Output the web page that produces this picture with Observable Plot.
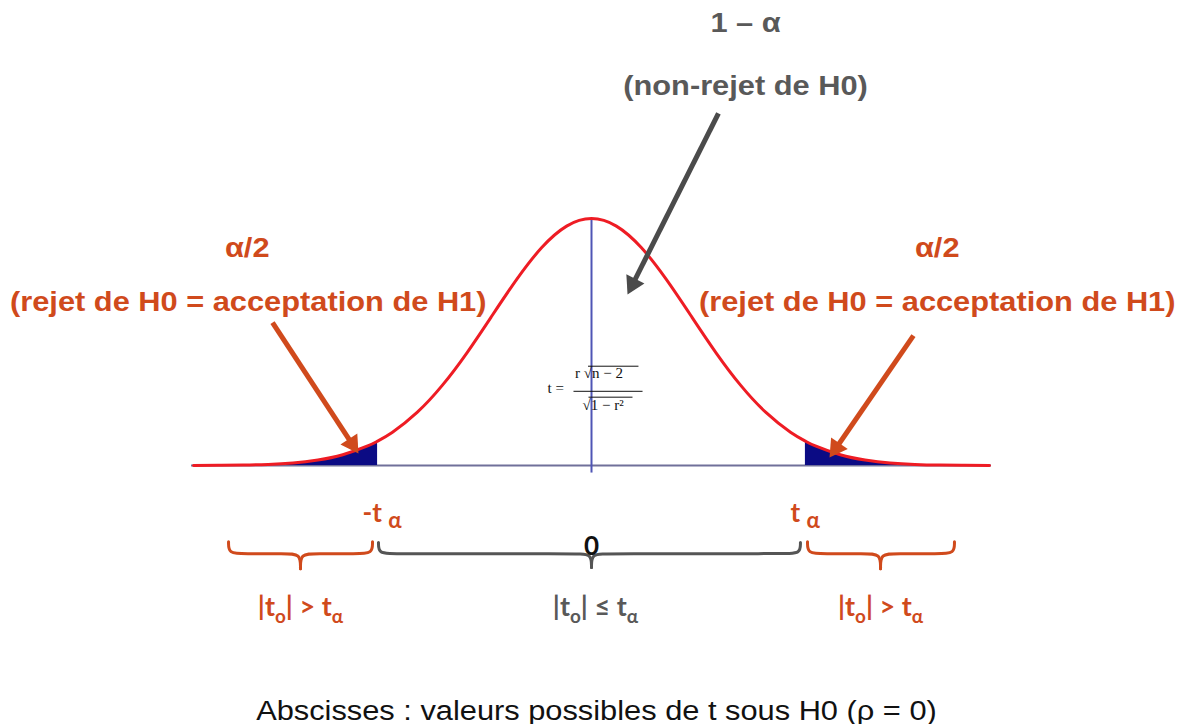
<!DOCTYPE html>
<html>
<head>
<meta charset="utf-8">
<script src="https://cdn.jsdelivr.net/npm/d3@7"></script>
<script src="https://cdn.jsdelivr.net/npm/@observablehq/plot@0.6"></script>
<style>
  html, body { margin: 0; padding: 0; background: #fff; }
  #chart { width: 1182px; height: 724px; }
</style>
</head>
<body>
<div id="chart"></div>
<script>
// ---------------- values ----------------
const tValues = [-4, -3.75, -3.5, -3.25, -3, -2.75, -2.5, -2.25, -2.15, -2, -1.75, -1.5, -1.25, -1, -0.75, -0.5, -0.25,
                 0, 0.25, 0.5, 0.75, 1, 1.25, 1.5, 1.75, 2, 2.15, 2.25, 2.5, 2.75, 3, 3.25, 3.5, 3.75, 4];
const density = [0.0001, 0.0004, 0.0009, 0.0020, 0.0044, 0.0091, 0.0175, 0.0317, 0.0396, 0.0540, 0.0863, 0.1295, 0.1826, 0.2420, 0.3011, 0.3521, 0.3867,
                 0.3989, 0.3867, 0.3521, 0.3011, 0.2420, 0.1826, 0.1295, 0.0863, 0.0540, 0.0396, 0.0317, 0.0175, 0.0091, 0.0044, 0.0020, 0.0009, 0.0004, 0.0001];
const tCenter = 0;
const tCritical = [-2.15, 2.15];
const axisExtent = [-4.02, 4.02];

const centerLabels = ["1 – α", "(non-rejet de H0)"];
const alphaLabels = ["α/2", "α/2"];
const rejectLabels = ["(rejet de H0 = acceptation de H1)", "(rejet de H0 = acceptation de H1)"];
const criticalLabels = ["-t ~α", "t ~α"];
const xTickLabels = ["0"];
const regionLabels = ["|t_o| > t_α", "|t_o| ≤ t_α", "|t_o| > t_α"];
const formulaLabels = ["t =", "r √n − 2", "√1 − r²"];
const captionLabels = ["Abscisses : valeurs possibles de t sous H0 (ρ = 0)"];

// ---------------- layout & style ----------------
const W = 1182, H = 724;
const xDomain = [-5.94, 5.94];
const yDomain = [-0.418, 0.751];
const kx = W / (xDomain[1] - xDomain[0]);
const ky = H / (yDomain[1] - yDomain[0]);

const RED = "#ee1c24", NAVY = "#0b0b84", AXIS = "#70709a", VLINE = "#4f55b5";
const ORANGE = "#d04a1c", GRAYTXT = "#595959", GRAYARROW = "#4b4b4b", BRACEGRAY = "#555555";
const ARIAL = "'Liberation Sans', Arial, sans-serif";
const CALIBRI = "Lato, 'Open Sans', sans-serif";
const SERIF = "'Liberation Serif', 'Times New Roman', serif";

const curveData = tValues.map((t, i) => ({t, d: density[i]}));
const leftTail = curveData.filter(p => p.t <= tCritical[0] + 1e-9);
const rightTail = curveData.filter(p => p.t >= tCritical[1] - 1e-9);
const peak = d3.max(density);

const centerPos = [{x: 1.548, y: 0.7153}, {x: 1.548, y: 0.6136}];
const alphaPos = [{x: -3.46, y: 0.352}, {x: 3.475, y: 0.352}];
const rejectPos = [{x: -3.45, y: 0.2648}, {x: 3.475, y: 0.2648}];
const criticalPos = [{x: -2.302, y: -0.0775}, {x: 2.0, y: -0.0775}];
const tickPos = [{x: 0, y: -0.1308}];
const regionPos = [{x: -2.925, y: -0.2293}, {x: 0.04, y: -0.2293}, {x: 2.905, y: -0.2293}];
const regionColor = [ORANGE, GRAYTXT, ORANGE];
const formulaPos = [{x: -0.442, y: 0.1179}, {x: -0.165, y: 0.1421}, {x: -0.09, y: 0.0904}];
const captionPos = [{x: 0.05, y: -0.3956}];

const mk = (labels, pos, extra = {}) => labels.map((label, i) => ({label, ...pos[i], ...(extra.color ? {color: extra.color[i]} : {})}));

const braceSpecs = [
  {x1: -3.648, x2: -2.201, cx: -2.925, top: -0.1228, mid: -0.1421, tip: -0.1664, color: ORANGE},
  {x1: -2.141, x2: 2.10, cx: 0, top: -0.124, mid: -0.1421, tip: -0.1645, color: BRACEGRAY},
  {x1: 2.171, x2: 3.648, cx: 2.905, top: -0.1228, mid: -0.1421, tip: -0.1664, color: ORANGE}
];
const BR = 0.15;
function bracePoints(b, id) {
  const half = (e, tag) => {
    const s = Math.sign(b.cx - e);
    return [[e, b.top], [e, b.mid], [e + s * BR, b.mid], [b.cx - s * BR, b.mid], [b.cx, b.mid], [b.cx, b.tip]]
      .map(([x, y]) => ({x, y, z: id + tag}));
  };
  return [...half(b.x1, "a"), ...half(b.x2, "b")];
}

const arrowSpecs = [
  {x1: -3.206, y1: 0.231, x2: -2.342, y2: 0.0194, color: ORANGE},
  {x1: 3.236, y1: 0.210, x2: 2.392, y2: 0.0129, color: ORANGE},
  {x1: 1.276, y1: 0.5686, x2: 0.362, y2: 0.2762, color: GRAYARROW}
];
const HEAD_R = 7.5, HEAD_BACK = 11.7;
const arrows = arrowSpecs.map(a => {
  const dx = (a.x2 - a.x1) * kx, dy = -(a.y2 - a.y1) * ky;
  const L = Math.hypot(dx, dy), ux = dx / L, uy = dy / L;
  return {...a, hx: a.x2 - ux * HEAD_BACK / kx, hy: a.y2 + uy * HEAD_BACK / ky, rot: Math.atan2(ux, -uy) * 180 / Math.PI};
});

const overlines = [
  {x1: -0.035, x2: 0.472, y: 0.1605},
  {x1: -0.181, x2: 0.513, y: 0.12},
  {x1: -0.03, x2: 0.412, y: 0.1105}
];

const marks = [
  Plot.ruleY([0], {x1: axisExtent[0], x2: axisExtent[1], stroke: AXIS, strokeWidth: 2}),
  Plot.areaY(leftTail, {x: "t", y: "d", fill: NAVY, curve: "natural"}),
  Plot.areaY(rightTail, {x: "t", y: "d", fill: NAVY, curve: "natural"}),
  Plot.ruleX([tCenter], {y1: -0.012, y2: peak, stroke: VLINE, strokeWidth: 2}),
  Plot.line(curveData, {x: "t", y: "d", stroke: RED, strokeWidth: 3, curve: "natural"}),
  // formula
  Plot.link(overlines, {x1: "x1", x2: "x2", y1: "y", y2: "y", stroke: "#111", strokeWidth: 1}),
  Plot.text(mk(formulaLabels, formulaPos), {x: "x", y: "y", text: "label", textAnchor: "start", lineAnchor: "bottom",
    fontFamily: SERIF, fontSize: 15, fill: "#111"}),
  // braces
  ...braceSpecs.map((b, i) => Plot.line(bracePoints(b, "b" + i), {x: "x", y: "y", z: "z", stroke: b.color, strokeWidth: 3, curve: "basis"})),
  // arrows (shaft + filled head)
  ...arrows.map(a => Plot.link([a], {x1: "x1", y1: "y1", x2: "hx", y2: "hy", stroke: a.color, strokeWidth: 5})),
  ...arrows.map(a => Plot.dot([a], {x: "hx", y: "hy", symbol: "triangle", r: HEAD_R, rotate: "rot", fill: a.color, stroke: "none"})),
  // texts
  Plot.text(mk(centerLabels, centerPos), {x: "x", y: "y", text: "label", fontFamily: ARIAL, fontWeight: "bold", fontSize: 28, fill: GRAYTXT, ariaDescription: "stretch"}),
  Plot.text(mk(alphaLabels, alphaPos), {x: "x", y: "y", text: "label", fontFamily: ARIAL, fontWeight: "bold", fontSize: 28, fill: ORANGE, ariaDescription: "stretch"}),
  Plot.text(mk(rejectLabels, rejectPos), {x: "x", y: "y", text: "label", fontFamily: ARIAL, fontWeight: "bold", fontSize: 28, fill: ORANGE, ariaDescription: "stretch"}),
  Plot.text(mk(criticalLabels, criticalPos), {x: "x", y: "y", text: "label", textAnchor: "start", fontFamily: CALIBRI, fontWeight: "bold", fontSize: 26, fill: ORANGE}),
  Plot.text(mk(xTickLabels, tickPos), {x: "x", y: "y", text: "label", fontFamily: CALIBRI, fontWeight: "bold", fontSize: 26, fill: "#111"}),
  Plot.text(mk(regionLabels, regionPos, {color: regionColor}), {x: "x", y: "y", text: "label", fontFamily: CALIBRI, fontWeight: "bold", fontSize: 27, fill: "color"}),
  Plot.text(mk(captionLabels, captionPos), {x: "x", y: "y", text: "label", fontFamily: ARIAL, fontSize: 28, fill: "#111", ariaDescription: "stretch"})
];

const svg = Plot.plot({
  width: W, height: H,
  marginTop: 0, marginRight: 0, marginBottom: 0, marginLeft: 0,
  x: {domain: xDomain, axis: null},
  y: {domain: yDomain, axis: null},
  color: {type: "identity"},
  style: {background: "#fff", overflow: "visible"},
  marks
});
document.getElementById("chart").append(svg);

// subscripts: "_x" small subscript, "~x" lowered letter
d3.select(svg).selectAll("text").each(function () {
  const s = this.textContent;
  if (!/[_~]/.test(s)) return;
  const fs = parseFloat(getComputedStyle(this).fontSize) || 24;
  const tokens = s.split(/([_~].)/).filter(x => x !== "");
  this.textContent = "";
  let shift = 0;
  for (const tok of tokens) {
    const ts = document.createElementNS("http://www.w3.org/2000/svg", "tspan");
    let target, size;
    if (tok[0] === "_") { target = fs * 0.26; size = fs * 0.7; ts.textContent = tok.slice(1); }
    else if (tok[0] === "~") { target = fs * 0.22; size = fs * 0.85; ts.textContent = tok.slice(1); }
    else { target = 0; size = fs; ts.textContent = tok; }
    ts.setAttribute("dy", (target - shift).toFixed(2));
    ts.setAttribute("font-size", size.toFixed(2));
    shift = target;
    this.appendChild(ts);
  }
});

// horizontal stretch of the Arial texts, as in the reference picture
const stretched = new Set();
svg.querySelectorAll('[aria-description="stretch"]').forEach(el => {
  if (el.tagName.toLowerCase() === "text") stretched.add(el);
  else el.querySelectorAll("text").forEach(t => stretched.add(t));
});
stretched.forEach(t => {
  const tr = t.getAttribute("transform") || "";
  t.setAttribute("transform", tr + " scale(1.1,1)");
});
</script>
</body>
</html>
